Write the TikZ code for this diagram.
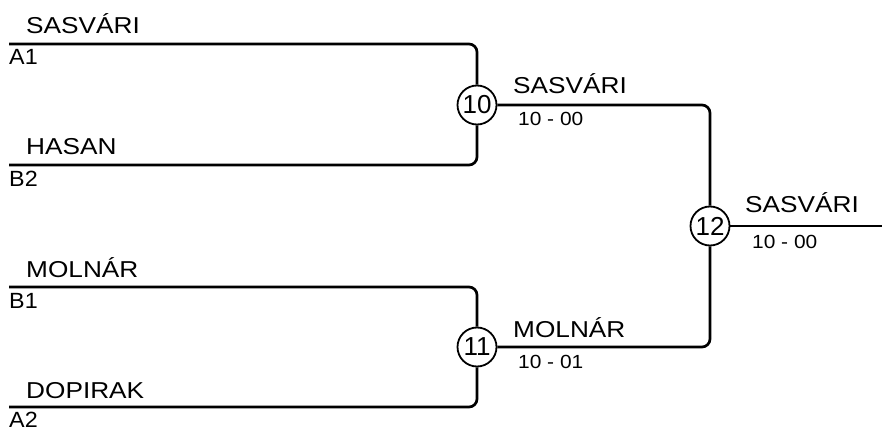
\documentclass[tikz,border=0pt]{standalone}
\usepackage{fontspec}
\setmainfont{Liberation Sans}
\begin{document}
\begin{tikzpicture}[x=1pt,y=-1pt,
    line/.style={line width=2.7pt, rounded corners=8pt},
    match/.style={circle, draw, line width=1.8pt, minimum size=39pt, inner sep=0pt, fill=white, font=\fontsize{26}{26}\selectfont},
    player/.style={anchor=base west, inner sep=0pt, font=\fontsize{23}{23}\selectfont},
    seed/.style={anchor=base west, inner sep=0pt, font=\fontsize{22}{22}\selectfont},
    result/.style={anchor=base west, inner sep=0pt, font=\fontsize{19}{19}\selectfont}]
    \useasboundingbox (0,0) rectangle (882,430);

    % entry lines
    \coordinate (a1) at (9,44);
    \coordinate (b2) at (9,165);
    \coordinate (b1) at (9,287);
    \coordinate (a2) at (9,407);
    \coordinate (final) at (882,226);

    \node[match] (m10) at (477,105) {10};
    \node[match] (m11) at (477,347) {11};
    \node[match] (m12) at (710,226) {12};

    \draw[line] (a1) -| (m10);
    \draw[line] (b2) -| (m10);
    \draw[line] (b1) -| (m11);
    \draw[line] (a2) -| (m11);
    \draw[line] (m10) -| (m12);
    \draw[line] (m11) -| (m12);
    \draw[line] (m12) -- (final);

    % first round
    \node[player] (pa1) at (26,34) {\scalebox{1.14}[1]{SASVÁRI}};
    \node[seed] (sa1) at (9,65) {\scalebox{1.06}[1]{A1}};
    \node[player] (pb2) at (26,155) {\scalebox{1.14}[1]{HASAN}};
    \node[seed] (sb2) at (9,187) {\scalebox{1.06}[1]{B2}};
    \node[player] (pb1) at (26,277) {\scalebox{1.14}[1]{MOLNÁR}};
    \node[seed] (sb1) at (9,308) {\scalebox{1.06}[1]{B1}};
    \node[player] (pa2) at (26,398) {\scalebox{1.14}[1]{DOPIRAK}};
    \node[seed] (sa2) at (9,427) {\scalebox{1.06}[1]{A2}};

    % semi finals and final
    \node[player] (w10) at (513,94) {\scalebox{1.14}[1]{SASVÁRI}};
    \node[result] (r10) at (518,126) {\scalebox{1.1}[1]{10 - 00}};
    \node[player] (w11) at (513,337) {\scalebox{1.14}[1]{MOLNÁR}};
    \node[result] (r11) at (518,368) {\scalebox{1.1}[1]{10 - 01}};
    \node[player] (w12) at (745,212) {\scalebox{1.14}[1]{SASVÁRI}};
    \node[result] (r12) at (752,248) {\scalebox{1.1}[1]{10 - 00}};
\end{tikzpicture}
\end{document}
